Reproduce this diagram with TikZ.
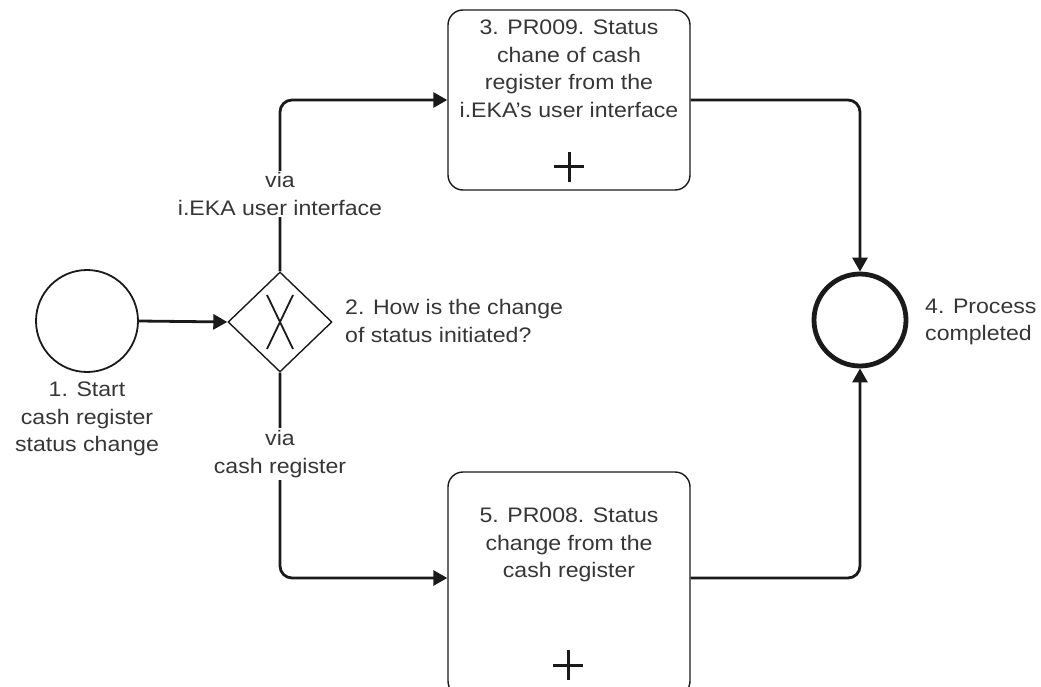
\documentclass[tikz,border=0pt]{standalone}
\usepackage{fontspec}
\setmainfont{Liberation Sans}[FakeStretch=1.1]
\usetikzlibrary{arrows.meta,shapes.geometric}
\definecolor{ink}{HTML}{1A1A1A}
\definecolor{txtgray}{HTML}{363636}
\begin{document}
\begin{tikzpicture}[x=1pt,y=-1pt,
  txt/.style={text=txtgray, font=\fontsize{21}{27.5}\selectfont, align=center, inner sep=0pt},
  flow/.style={line width=2.8pt, draw=ink, rounded corners=12pt,
    -{Triangle[length=14pt,width=15pt]}},
  task/.style={draw=ink, line width=1.4pt, rounded corners=15pt,
    minimum width=242pt, inner sep=0pt, fill=white},
  plusmark/.style={draw=ink, line width=3pt},
  flowlabel/.style={txt, fill=white, inner sep=2pt}
]
\useasboundingbox (0,0) rectangle (1041,687);

% start event
\node[circle, draw=ink, line width=1.8pt, minimum size=102pt, inner sep=0pt] (s) at (87,321) {};
\node[txt] (slab) at (87,419) {1. Start\\cash register\\status change};

% exclusive gateway
\node[diamond, draw=ink, line width=1.4pt, minimum width=104pt, minimum height=100pt,
  inner sep=0pt] (g) at (280,322) {};
\draw[ink, line width=1.8pt] (g.center) ++(-13,-27) -- ++(26,54)
                            (g.center) ++(13,-27) -- ++(-26,54);
\node[txt, anchor=west, align=left] (glab) at (345,321) {2. How is the change\\of status initiated?};

% sub-process 3
\node[task, minimum height=180pt] (t3) at (569,100) {};
\node[txt] (t3lab) at (569,69) {3. PR009. Status\\chane of cash\\register from the\\i.EKA's user interface};
\draw[plusmark] (569,152) -- (569,182) (554,167) -- (584,167);

% sub-process 5 (runs past the lower edge of the page)
\node[task, minimum height=224pt] (t5) at (569,584) {};
\node[txt] (t5lab) at (569,545) {5. PR008. Status\\change from the\\cash register};
\draw[plusmark] (568,650) -- (568,680) (553,665) -- (583,665);

% end event
\node[circle, draw=ink, line width=4.8pt, minimum size=92pt, inner sep=0pt] (e) at (860,320) {};
\node[txt, anchor=west, align=left] (elab) at (925,322) {4. Process\\completed};

% sequence flows
\draw[flow] (s.east) -- (g.west);
\draw[flow] (g.north) |- (t3.west);
\draw[flow] (g.south) |- ([yshift=6pt]t5.west);
\draw[flow] (t3.east) -| (e.north);
\draw[flow] ([yshift=6pt]t5.east) -| (e.south);

% flow conditions
\node[flowlabel] (c1) at (280,194) {via\\i.EKA user interface};
\node[flowlabel] (c2) at (280,454) {via\\cash register};
\end{tikzpicture}
\end{document}
